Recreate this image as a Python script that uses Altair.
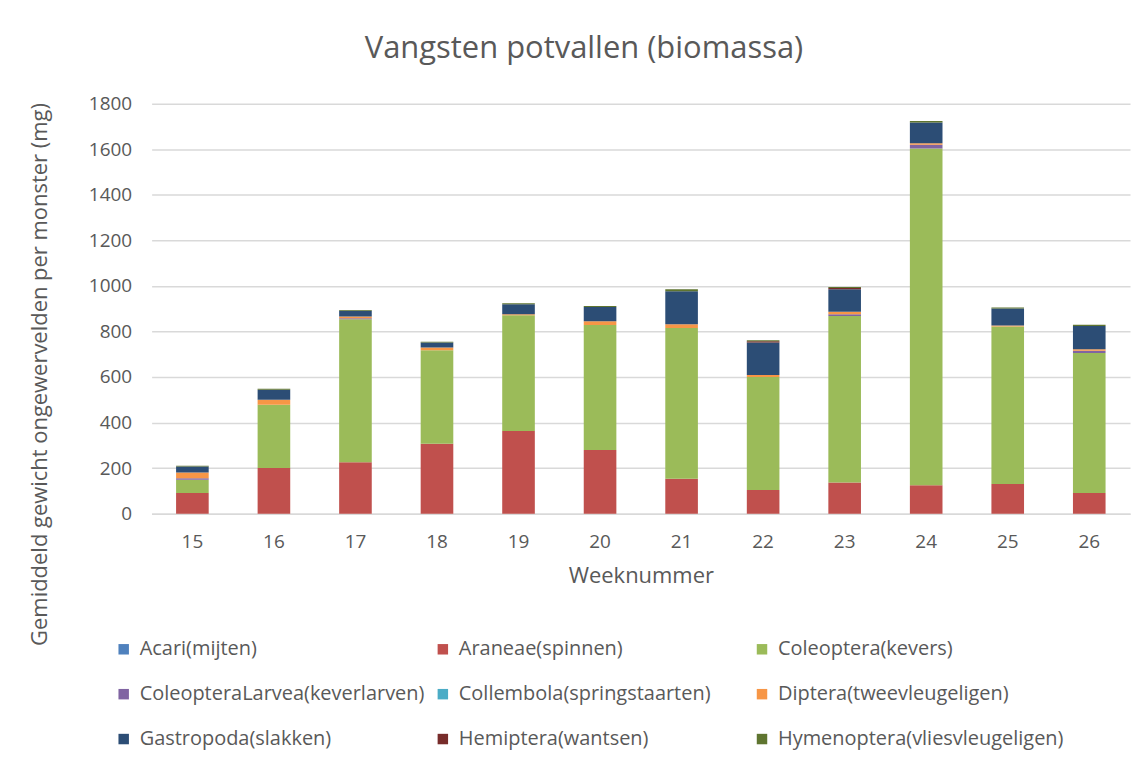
import altair as alt
import pandas as pd

weeks = ["15", "16", "17", "18", "19", "20", "21", "22", "23", "24", "25", "26"]
series = [
    "Acari(mijten)", "Araneae(spinnen)", "Coleoptera(kevers)",
    "ColeopteraLarvea(keverlarven)", "Collembola(springstaarten)", "Diptera(tweevleugeligen)",
    "Gastropoda(slakken)", "Hemiptera(wantsen)", "Hymenoptera(vliesvleugeligen)",
]
colors = ["#4f81bd", "#c0504d", "#9bbb59", "#8064a2", "#4bacc6", "#f79646",
          "#2c4d75", "#772c2a", "#5f7530"]

acari = [0, 0, 0, 0, 0, 0, 0, 0, 0, 0, 0, 0]
araneae = [91, 200, 226, 307, 363, 280, 153, 104, 137, 125, 130, 91]
coleoptera = [58, 278, 628, 411, 508, 548, 662, 496, 731, 1478, 692, 614]
coleoptera_larvea = [6, 0, 4, 0, 0, 0, 0, 0, 8, 17, 0, 10]
collembola = [0, 0, 0, 0, 0, 0, 0, 0, 0, 0, 0, 0]
diptera = [26, 22, 8, 12, 5, 17, 17, 9, 11, 6, 4, 7]
gastropoda = [26, 44, 25, 22, 44, 62, 145, 142, 98, 92, 75, 102]
hemiptera = [0, 0, 0, 0, 0, 0, 0, 6, 6, 0, 0, 0]
hymenoptera = [3, 4, 3, 3, 4, 5, 8, 4, 4, 6, 4, 5]

y_ticks = [0, 200, 400, 600, 800, 1000, 1200, 1400, 1600, 1800]

values = [acari, araneae, coleoptera, coleoptera_larvea, collembola, diptera,
          gastropoda, hemiptera, hymenoptera]
rows = []
for i, (name, vals) in enumerate(zip(series, values)):
    for w, v in zip(weeks, vals):
        rows.append({"week": w, "serie": name, "value": v, "order": i})
df = pd.DataFrame(rows)

FONT = "Open Sans"
GREY = "#595959"

chart = alt.Chart(df).mark_bar().encode(
    x=alt.X("week:N", sort=weeks,
            scale=alt.Scale(paddingInner=0.6, paddingOuter=0.3),
            axis=alt.Axis(title="Weeknummer", labelAngle=0, ticks=False,
                          domainColor="#d9d9d9", domainWidth=1.5,
                          labelPadding=19, titlePadding=14,
                          labelFontSize=19, titleFontSize=22,
                          labelColor=GREY, titleColor=GREY,
                          labelFont=FONT, titleFont=FONT, titleFontWeight="normal")),
    y=alt.Y("value:Q", stack="zero",
            scale=alt.Scale(domain=[0, 1800], nice=False),
            axis=alt.Axis(title="Gemiddeld gewicht ongewervelden per monster (mg)",
                          values=y_ticks, format="d", ticks=False, domain=False,
                          gridColor="#d9d9d9", gridWidth=1.5,
                          labelPadding=20, labelFontSize=19, titleFontSize=22,
                          labelColor=GREY, titleColor=GREY,
                          labelFont=FONT, titleFont=FONT, titleFontWeight="normal",
                          titleAngle=-90, titleX=-112, titleY=271,
                          titleAlign="center", titleBaseline="middle")),
    color=alt.Color("serie:N", sort=series,
                    scale=alt.Scale(domain=series, range=colors),
                    legend=alt.Legend(title=None, orient="none", legendX=-38, legendY=537,
                                      direction="horizontal",
                                      columns=3, gridAlign="all", columnPadding=7,
                                      rowPadding=25, symbolType="square", symbolSize=110,
                                      symbolStrokeWidth=0, labelFontSize=20,
                                      labelColor=GREY, labelFont=FONT, labelLimit=400,
                                      symbolOffset=0, labelOffset=6)),
    order=alt.Order("order:Q", sort="ascending"),
).properties(
    width=981,
    height=411,
    title=alt.TitleParams("Vangsten potvallen (biomassa)", fontSize=31, font=FONT,
                          color=GREY, fontWeight="normal", anchor="middle",
                          dx=-57, offset=30),
    autosize=alt.AutoSizeParams(type="none"),
    padding={"left": 144, "top": 95, "right": 10, "bottom": 240},
).configure_view(stroke=None)

chart.save("out.html", embed_options={"renderer": "svg", "actions": False})
